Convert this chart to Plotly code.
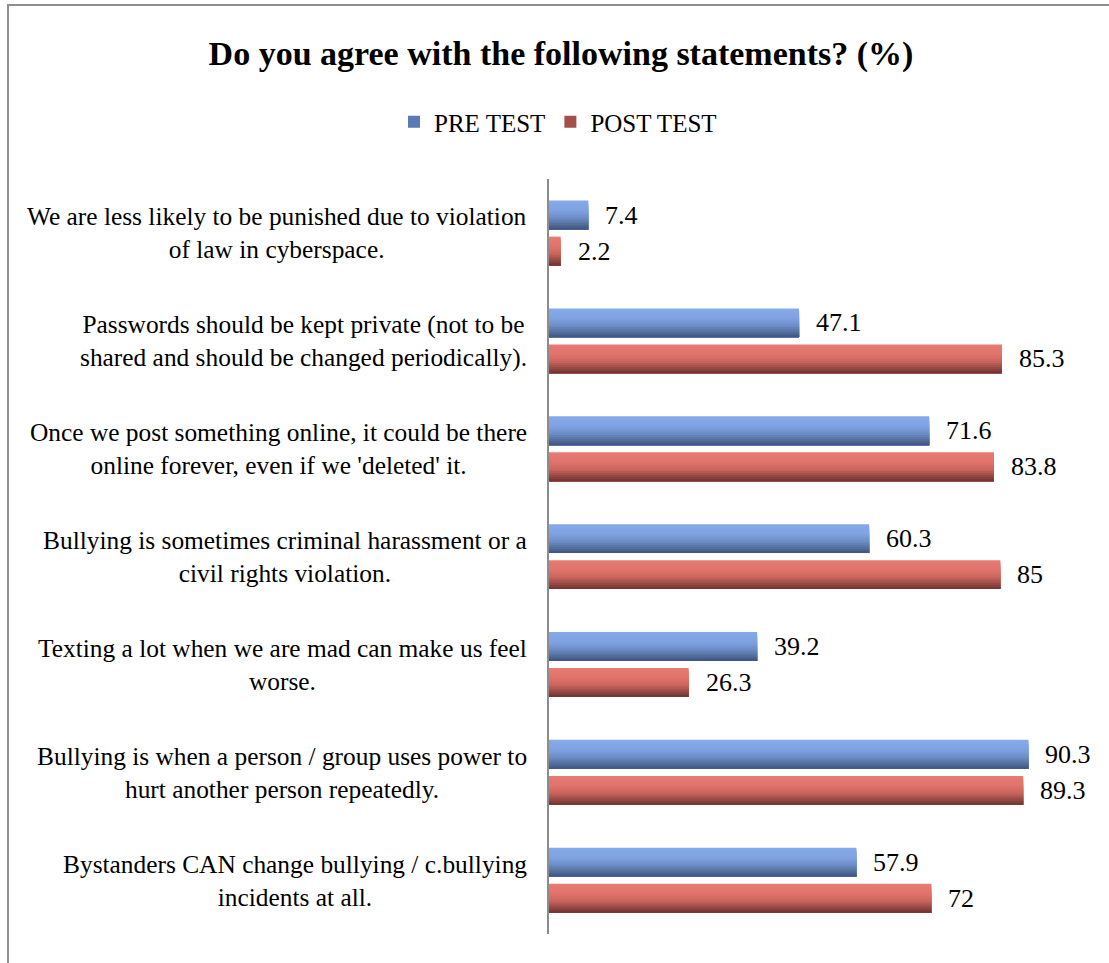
import plotly.graph_objects as go

# ---- data -------------------------------------------------------------
statements = [
    "We are less likely to be punished due to violation<br>of law in cyberspace.",
    "Passwords should be kept private (not to be<br>shared and should be changed periodically).",
    "Once we post something online, it could be there<br>online forever, even if we 'deleted' it.",
    "Bullying is sometimes criminal harassment or a<br>civil rights violation.",
    "Texting a lot when we are mad can make us feel<br>worse.",
    "Bullying is when a person / group uses power to<br>hurt another person repeatedly.",
    "Bystanders CAN change bullying / c.bullying<br>incidents at all.",
]
pre_test = [7.4, 47.1, 71.6, 60.3, 39.2, 90.3, 57.9]
post_test = [2.2, 85.3, 83.8, 85.0, 26.3, 89.3, 72.0]
series_names = ["PRE TEST", "POST TEST"]

# ---- page geometry ------------------------------------------------------
W, H = 1109, 963
ML, MR, MT, MB = 549, 29, 179, 29
FONT = "Liberation Serif"

def px_to_paper_x(px):
    return (px - ML) / (W - ML - MR)

def px_to_paper_y(py):
    return (H - MB - py) / (H - MT - MB)

# ---- bar gradients (top -> bottom colour stops) -------------------------
def hex_rgb(h):
    h = h.lstrip("#")
    return tuple(int(h[i:i + 2], 16) for i in (0, 2, 4))

def ramp(stops, t):
    for (t0, c0), (t1, c1) in zip(stops, stops[1:]):
        if t <= t1:
            f = 0 if t1 == t0 else (t - t0) / (t1 - t0)
            a, b = hex_rgb(c0), hex_rgb(c1)
            return "rgb(%d,%d,%d)" % tuple(round(a[k] + (b[k] - a[k]) * f) for k in range(3))
    return "rgb(%d,%d,%d)" % hex_rgb(stops[-1][1])

blue_stops = [(0.0, "#86aaea"), (0.35, "#7fa1e0"), (0.6, "#6d8dc7"),
              (0.8, "#56729f"), (1.0, "#3e5281")]
red_stops = [(0.0, "#e67c74"), (0.35, "#e0736b"), (0.6, "#c9645d"),
             (0.8, "#9b4b47"), (1.0, "#6b3331")]

BAR_W = 0.268          # thickness of one bar, in category units
series = [
    (series_names[0], pre_test, blue_stops, -0.300, "#5a7ab3"),
    (series_names[1], post_test, red_stops, 0.034, "#a54f4a"),
]
N_BANDS = 14
positions = list(range(len(statements)))

fig = go.Figure()

for name, values, stops, start, legend_color in series:
    band = BAR_W / N_BANDS
    # each band runs from its own top edge down to the bottom of the bar;
    # later (darker) bands cover the lower part, giving a seamless gradient
    for k in range(N_BANDS):
        t = (k + 0.5) / N_BANDS
        fig.add_trace(go.Bar(
            x=values, y=positions, orientation="h",
            offset=start + k * band,
            width=BAR_W - k * band,
            marker=dict(color=ramp(stops, t), line=dict(width=0)),
            showlegend=False, hoverinfo="skip",
        ))
    # legend entry for the series
    fig.add_trace(go.Bar(
        x=[None], y=[None], orientation="h", name=name,
        marker=dict(color=legend_color, line=dict(width=0)),
    ))
    # value labels at the end of each bar
    for i, v in enumerate(values):
        fig.add_annotation(
            x=v, y=i + start + BAR_W / 2, xref="x", yref="y",
            text=f"{v:g}", showarrow=False, xanchor="left", yanchor="middle",
            xshift=15, font=dict(family=FONT, size=26, color="black"),
        )

# statement labels, right-aligned block, centred lines
for i, s in enumerate(statements):
    fig.add_annotation(
        x=0, y=i, xref="x", yref="y", text=s, showarrow=False,
        xanchor="right", yanchor="middle", align="center", xshift=-20,
        font=dict(family=FONT, size=25.4, color="black"),
    )

# chart frame
fig.add_shape(
    type="rect", xref="paper", yref="paper",
    x0=px_to_paper_x(8), x1=px_to_paper_x(W + 20),
    y0=px_to_paper_y(H + 20), y1=px_to_paper_y(5),
    line=dict(color="#8e8e8e", width=2), fillcolor="rgba(0,0,0,0)",
)

fig.update_layout(
    width=W, height=H,
    margin=dict(l=ML, r=MR, t=MT, b=MB),
    paper_bgcolor="white", plot_bgcolor="white",
    barmode="overlay",
    title=dict(
        text="<b>Do you agree with the following statements? (%)</b>",
        x=561 / W, xref="container", xanchor="center",
        y=1 - 53 / H, yref="container", yanchor="middle",
        font=dict(family=FONT, size=34, color="black"),
    ),
    legend=dict(
        orientation="h", xref="container", yref="container",
        x=558 / W, xanchor="center", y=1 - 122 / H, yanchor="middle",
        font=dict(family=FONT, size=25, color="black"),
        bgcolor="rgba(0,0,0,0)", itemclick=False,
    ),
    xaxis=dict(range=[0, 100], showgrid=False, zeroline=False,
               showticklabels=False, showline=False, ticks=""),
    yaxis=dict(range=[len(statements) - 0.5, -0.5], showgrid=False,
               zeroline=False, showticklabels=False, ticks="",
               showline=True, linecolor="#8c8c8c", linewidth=1.5),
    font=dict(family=FONT),
)

fig.write_html("out.html")
